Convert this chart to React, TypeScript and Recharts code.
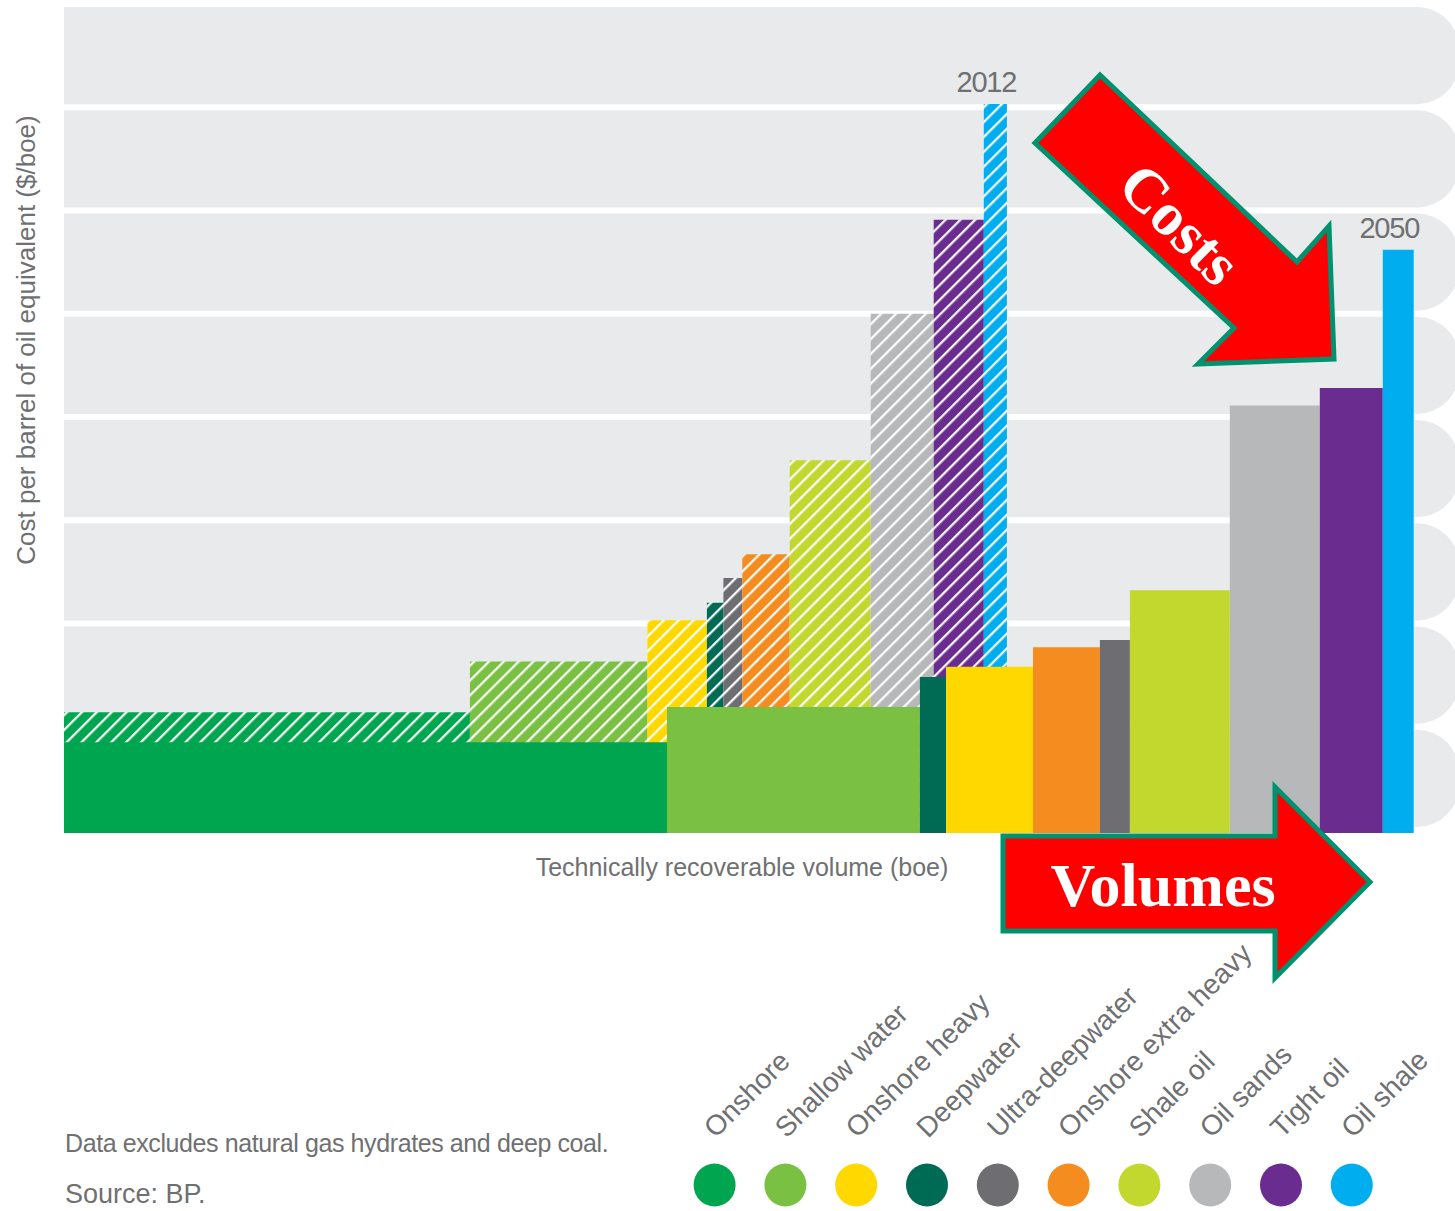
import React from "react";
import { ComposedChart, XAxis, YAxis, ReferenceArea } from "recharts";

const categories = [
  "Onshore",
  "Shallow water",
  "Onshore heavy",
  "Deepwater",
  "Ultra-deepwater",
  "Onshore extra heavy",
  "Shale oil",
  "Oil sands",
  "Tight oil",
  "Oil shale",
];

const colors = [
  "#00a54f",
  "#7ac143",
  "#ffd800",
  "#006b54",
  "#6e6e72",
  "#f58c1f",
  "#c2d82e",
  "#b7b8ba",
  "#6a2c8f",
  "#00aeef",
];

// technically recoverable volume (relative units) and cost ($/boe, relative)
const volume2012 = [135.3, 59.2, 19.8, 5.5, 6.3, 15.8, 27, 21, 16.7, 7.7];
const cost2012 = [11.7, 16.6, 20.6, 22.3, 24.7, 27.0, 36.1, 50.3, 59.4, 70.6];
const volume2050 = [201, 84.3, 29, 8.7, 10, 22.3, 33.3, 30, 21, 10.3];
const cost2050 = [8.8, 12.2, 16.1, 15.1, 18.7, 18.0, 23.5, 41.4, 43.1, 56.5];

const bandStarts = [0, 10, 20, 30, 40, 50, 60, 70];
const X_MAX = 465;
const Y_MAX = 80;

const FONT = "'Liberation Sans', Arial, sans-serif";
const GREY = "#6f7072";

// cost curve: segments sorted by cost, laid side by side
function buildCurve(volumes: number[], costs: number[]) {
  const order = categories.map((_, i) => i).sort((a, b) => costs[a] - costs[b]);
  let x = 0;
  return order.map((i) => {
    const seg = { i, x1: x, x2: x + volumes[i], cost: costs[i] };
    x += volumes[i];
    return seg;
  });
}

const curve2012 = buildCurve(volume2012, cost2012);
const curve2050 = buildCurve(volume2050, cost2050);

const BandShape = (props: any) => {
  const { x, y, width, height } = props;
  const h = height - 6;
  const r = 42;
  const right = x + width;
  const d = `M${x},${y} H${right - r} A${r},${r} 0 0 1 ${right},${y + r} V${y + h - r} A${r},${r} 0 0 1 ${right - r},${y + h} H${x} Z`;
  return <path d={d} fill="#e9eaec" />;
};

const yearLabel = (value: string) => ({
  value,
  position: "top" as const,
  offset: 12,
  dx: -9,
  fill: GREY,
  fontSize: 29,
  fontFamily: FONT,
  letterSpacing: -1.2,
});

export default function App() {
  const last2012 = curve2012.length - 1;
  const last2050 = curve2050.length - 1;
  return (
    <div
      style={{
        position: "absolute",
        left: 0,
        top: 0,
        width: 1455,
        height: 1211,
        overflow: "hidden",
        background: "#fff",
        fontFamily: FONT,
      }}
    >
      <div style={{ position: "absolute", left: 0, top: 0 }}>
        <ComposedChart
          width={1459}
          height={840}
          margin={{ top: 7, right: 0, bottom: 7, left: 64 }}
        >
          <defs>
            {colors.map((c, i) => (
              <pattern
                key={i}
                id={`hatch-${i}`}
                patternUnits="userSpaceOnUse"
                width="10.5"
                height="10.5"
                patternTransform="rotate(45)"
              >
                <rect width="10.5" height="10.5" fill={c} />
                <line x1="5" y1="0" x2="5" y2="10.5" stroke="#ffffff" strokeWidth="2.2" />
              </pattern>
            ))}
          </defs>
          <XAxis type="number" dataKey="x" domain={[0, X_MAX]} hide allowDataOverflow />
          <YAxis type="number" domain={[0, Y_MAX]} hide allowDataOverflow />

          {bandStarts.map((b) => (
            <ReferenceArea
              key={`band-${b}`}
              x1={0}
              x2={X_MAX}
              y1={b}
              y2={b + 10}
              shape={BandShape}
            />
          ))}

          {curve2012.map((s, k) => (
            <ReferenceArea
              key={`a-${s.i}`}
              x1={s.x1}
              x2={s.x2}
              y1={0}
              y2={s.cost}
              fill={`url(#hatch-${s.i})`}
              fillOpacity={1}
              stroke="none"
              label={k === last2012 ? yearLabel("2012") : undefined}
            />
          ))}

          {curve2050.map((s, k) => (
            <ReferenceArea
              key={`b-${s.i}`}
              x1={s.x1}
              x2={s.x2}
              y1={0}
              y2={s.cost}
              fill={colors[s.i]}
              fillOpacity={1}
              stroke="none"
              label={k === last2050 ? yearLabel("2050") : undefined}
            />
          ))}
        </ComposedChart>
      </div>

      <svg
        width={1455}
        height={1211}
        style={{ position: "absolute", left: 0, top: 0, pointerEvents: "none" }}
      >
        {/* axis titles */}
        <text
          x={35}
          y={340}
          transform="rotate(-90 35 340)"
          textAnchor="middle"
          fontSize={26}
          fill={GREY}
          fontFamily={FONT}
        >
          Cost per barrel of oil equivalent ($/boe)
        </text>
        <text x={742} y={876} textAnchor="middle" fontSize={25} fill={GREY} fontFamily={FONT}>
          Technically recoverable volume (boe)
        </text>

        {/* notes */}
        <text x={65} y={1152} fontSize={25} fill={GREY} fontFamily={FONT} letterSpacing={-0.4}>
          Data excludes natural gas hydrates and deep coal.
        </text>
        <text x={65} y={1203} fontSize={27} fill={GREY} fontFamily={FONT}>
          Source: BP.
        </text>

        {/* legend */}
        {categories.map((c, i) => {
          const cx = 714.6 + i * 70.8;
          return (
            <g key={c}>
              <text
                x={cx + 1}
                y={1139}
                transform={`rotate(-45 ${cx + 1} 1139)`}
                fontSize={28}
                fill={GREY}
                fontFamily={FONT}
              >
                {c}
              </text>
              <ellipse cx={cx} cy={1185} rx={21} ry={21.5} fill={colors[i]} />
            </g>
          );
        })}

        {/* annotation arrows */}
        <polygon
          points="1035,143 1100,75 1297,262 1329,226 1334,359 1198,364 1234,328"
          fill="#ff0000"
          stroke="#00916e"
          strokeWidth={5}
          strokeLinejoin="miter"
        />
        <text
          x={1180}
          y={224}
          transform="rotate(45 1180 224)"
          textAnchor="middle"
          dominantBaseline="central"
          fontSize={61}
          fontWeight="bold"
          fill="#fff"
          fontFamily="'Liberation Serif', 'Times New Roman', serif"
        >
          Costs
        </text>
        <polygon
          points="1003,836 1275,836 1275,787 1370,882 1275,978 1275,931 1003,931"
          fill="#ff0000"
          stroke="#00916e"
          strokeWidth={5}
        />
        <text
          x={1163}
          y={906}
          textAnchor="middle"
          fontSize={62}
          fontWeight="bold"
          fill="#fff"
          fontFamily="'Liberation Serif', 'Times New Roman', serif"
        >
          Volumes
        </text>
      </svg>
    </div>
  );
}
